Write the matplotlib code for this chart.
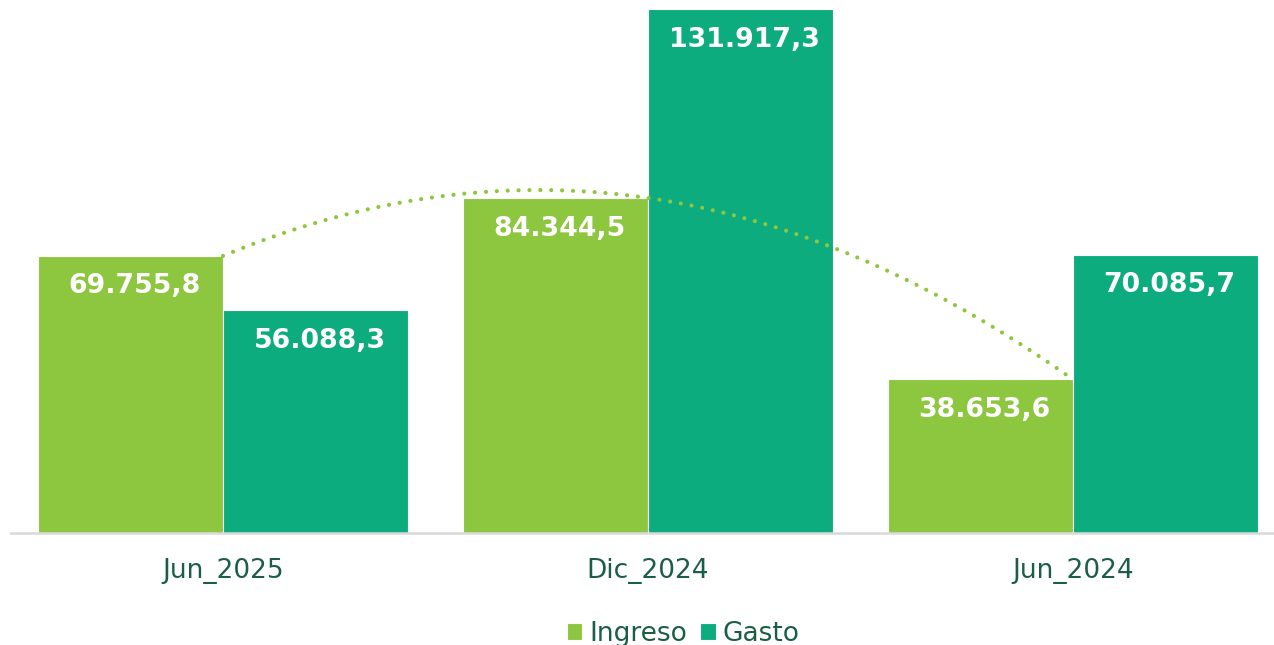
import matplotlib.pyplot as plt
import numpy as np

periodos = ["Jun_2025", "Dic_2024", "Jun_2024"]
ingreso = [69755.8, 84344.5, 38653.6]
gasto = [56088.3, 131917.3, 70085.7]

VERDE = "#8DC63F"
TEAL = "#0DAC7E"
TEXTO = "#1B5E45"


def fmt(v):
    # formato es: punto para miles, coma decimal
    s = f"{v:,.1f}"
    return s.replace(",", "X").replace(".", ",").replace("X", ".")


fig = plt.figure(figsize=(12.74, 6.45), dpi=100)
ax = fig.add_axes([10.5 / 1274, 1 - 533 / 645, 1275 / 1274, 533 / 645])

x = np.arange(len(periodos))
w = 0.435
b1 = ax.bar(x - w / 2, ingreso, w, color=VERDE, edgecolor="white", lw=0.8, label="Ingreso", zorder=2)
b2 = ax.bar(x + w / 2, gasto, w, color=TEAL, edgecolor="white", lw=0.8, label="Gasto", zorder=2)

ax.set_ylim(0, 134183)
ax.set_xlim(-0.5, 2.5)

# etiquetas dentro de cada barra, cerca del borde superior
for bars, vals in [(b1, ingreso), (b2, gasto)]:
    for rect, v in zip(bars, vals):
        ax.annotate(fmt(v), (rect.get_x() + rect.get_width() / 2, v),
                    xytext=(3, -22), textcoords="offset points",
                    ha="center", va="center", color="white",
                    fontsize=19.3, fontweight="heavy", zorder=4)

# tendencia polinomica (orden 2) del ingreso
coef = np.polyfit(x, ingreso, 2)
xs = np.linspace(0, 2, 300)
ax.plot(xs, np.polyval(coef, xs), color=VERDE, lw=3, ls=(0, (0.01, 2.6)),
        dash_capstyle="round", zorder=3)

for s in ["top", "right", "left"]:
    ax.spines[s].set_visible(False)
ax.spines["bottom"].set_color("#D9D9D9")
ax.spines["bottom"].set_linewidth(1.8)
ax.set_yticks([])
ax.set_xticks(x)
ax.set_xticklabels(periodos, fontsize=19, color=TEXTO)
ax.tick_params(axis="x", length=0, pad=18)

fig.legend(handles=[b1, b2], labels=["Ingreso", "Gasto"], loc="center",
           bbox_to_anchor=(683 / 1274, 1 - 634 / 645), ncol=2, frameon=False,
           fontsize=19, labelcolor=TEXTO, handlelength=0.6, handleheight=0.6,
           handletextpad=0.25, columnspacing=0.5)

plt.savefig("out.png", dpi=100)
